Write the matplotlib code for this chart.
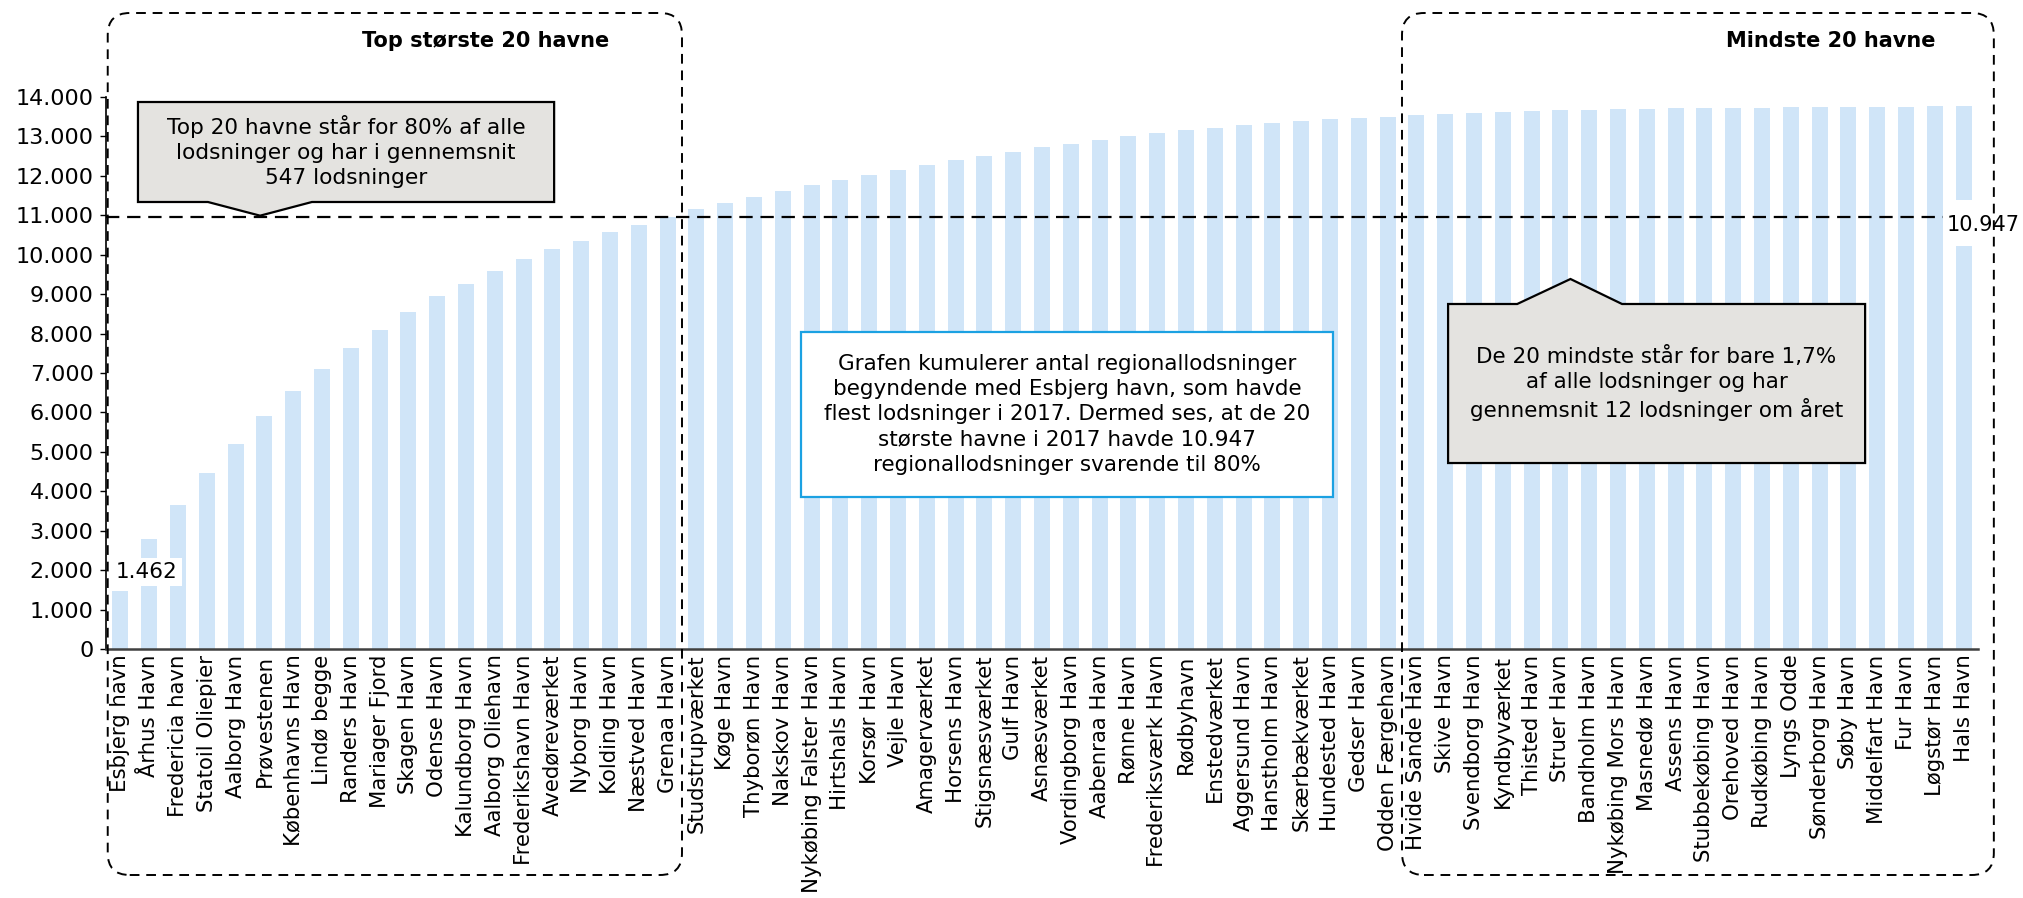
import matplotlib
matplotlib.use("Agg")
import matplotlib.pyplot as plt
from matplotlib.patches import FancyBboxPatch, Polygon, Rectangle
from matplotlib.ticker import FuncFormatter

plt.rcParams['font.family'] = ['DejaVu Sans']

# ---------------- data ----------------
havne = [
    "Esbjerg havn", "Århus Havn", "Fredericia havn", "Statoil Oliepier", "Aalborg Havn",
    "Prøvestenen", "Københavns Havn", "Lindø begge", "Randers Havn", "Mariager Fjord",
    "Skagen Havn", "Odense Havn", "Kalundborg Havn", "Aalborg Oliehavn", "Frederikshavn Havn",
    "Avedøreværket", "Nyborg Havn", "Kolding Havn", "Næstved Havn", "Grenaa Havn",
    "Studstrupværket", "Køge Havn", "Thyborøn Havn", "Nakskov Havn", "Nykøbing Falster Havn",
    "Hirtshals Havn", "Korsør Havn", "Vejle Havn", "Amagerværket", "Horsens Havn",
    "Stigsnæsværket", "Gulf Havn", "Asnæsværket", "Vordingborg Havn", "Aabenraa Havn",
    "Rønne Havn", "Frederiksværk Havn", "Rødbyhavn", "Enstedværket", "Aggersund Havn",
    "Hanstholm Havn", "Skærbækværket", "Hundested Havn", "Gedser Havn", "Odden Færgehavn",
    "Hvide Sande Havn", "Skive Havn", "Svendborg Havn", "Kyndbyværket", "Thisted Havn",
    "Struer Havn", "Bandholm Havn", "Nykøbing Mors Havn", "Masnedø Havn", "Assens Havn",
    "Stubbekøbing Havn", "Orehoved Havn", "Rudkøbing Havn", "Lyngs Odde", "Sønderborg Havn",
    "Søby Havn", "Middelfart Havn", "Fur Havn", "Løgstør Havn", "Hals Havn",
]

kumuleret = [
    1462, 2794, 3641, 4454, 5207, 5902, 6537, 7113, 7638, 8103,
    8535, 8943, 9265, 9586, 9890, 10135, 10355, 10567, 10761, 10947,
    11155, 11320, 11470, 11620, 11770, 11895, 12020, 12140, 12270, 12390,
    12500, 12610, 12720, 12810, 12910, 13010, 13095, 13160, 13220, 13290,
    13340, 13390, 13440, 13470, 13500,
    13540, 13575, 13600, 13630, 13645, 13660, 13680, 13690, 13705, 13710,
    13715, 13720, 13725, 13735, 13740, 13745, 13750, 13755, 13760, 13765,
]

graense = 10947
yticks = list(range(0, 14001, 1000))

# ---------------- figure ----------------
W, H = 2024, 898
fig = plt.figure(figsize=(W / 100, H / 100), dpi=100)
ax = fig.add_axes([106 / W, (H - 649) / H, (1978 - 106) / W, (649 - 97) / H])

x = list(range(len(havne)))
ax.bar(x, kumuleret, width=0.56, color='#D0E5F8', zorder=2)

ax.set_xlim(-0.5, len(havne) - 0.5)
ax.set_ylim(0, 14000)
ax.set_yticks(yticks)
ax.yaxis.set_major_formatter(FuncFormatter(lambda v, p: f"{int(v):,}".replace(",", ".")))
ax.tick_params(axis='y', labelsize=16, length=4, width=1, direction='out', pad=5, colors='black')
ax.set_xticks(x)
ax.set_xticklabels(havne, rotation=90, fontsize=15.3)
ax.tick_params(axis='x', length=0, pad=4)

for s in ['top', 'right']:
    ax.spines[s].set_visible(False)
ax.spines['left'].set_color('black')
ax.spines['left'].set_linewidth(1.2)
ax.spines['bottom'].set_color('#404040')
ax.spines['bottom'].set_linewidth(1.8)

# threshold dashed line
ax.plot([-0.5, len(havne) - 0.5], [graense, graense], color='black', lw=1.6,
        linestyle=(0, (6, 3.5)), zorder=4, clip_on=False)
ax.add_patch(Rectangle((63.3, 10220), 2.4, 1170, fc='white', ec='none',
                       zorder=5, clip_on=False))
ax.text(64.68, 10760, "10.947", fontsize=15, ha='center', va='center', zorder=6,
        clip_on=False)

# first value label
ax.text(-0.15, 1950, "1.462", fontsize=15.5, ha='left', va='center', zorder=6,
        bbox=dict(boxstyle='square,pad=0.2', fc='white', ec='none'))

# ---------------- callouts (data coords) ----------------
def callout(x0, x1, y0, y1, base0, base1, tip, top_pointer):
    if top_pointer:
        pts = [(x0, y0), (x1, y0), (x1, y1), (base1, y1), tip, (base0, y1), (x0, y1)]
    else:
        pts = [(x0, y1), (x1, y1), (x1, y0), (base1, y0), tip, (base0, y0), (x0, y0)]
    poly = Polygon(pts, closed=True, fc='#E4E3E0', ec='black', lw=1.6, zorder=7, clip_on=False)
    ax.add_patch(poly)

callout(0.61, 15.06, 11337, 13873, 3.04, 6.65, (4.85, 10990), top_pointer=False)
ax.text((0.61 + 15.06) / 2, (11337 + 13873) / 2 + 20,
        "Top 20 havne står for 80% af alle\nlodsninger og har i gennemsnit\n547 lodsninger",
        fontsize=15.6, ha='center', va='center', zorder=8, linespacing=1.3)

callout(46.10, 60.58, 4717, 8750, 48.5, 52.14, (50.35, 9384), top_pointer=True)
ax.text((46.10 + 60.58) / 2, (4717 + 8750) / 2,
        "De 20 mindste står for bare 1,7%\naf alle lodsninger og har\ngennemsnit 12 lodsninger om året",
        fontsize=15.5, ha='center', va='center', zorder=8, linespacing=1.3)

ax.add_patch(Rectangle((23.63, 3855), 42.1 - 23.63, 8040 - 3855, fc='white', ec='#1BA1E2',
                       lw=1.6, zorder=7))
ax.text((23.63 + 42.1) / 2, (3855 + 8040) / 2,
        "Grafen kumulerer antal regionallodsninger\nbegyndende med Esbjerg havn, som havde\n"
        "flest lodsninger i 2017. Dermed ses, at de 20\nstørste havne i 2017 havde 10.947\n"
        "regionallodsninger svarende til 80%",
        fontsize=15.5, ha='center', va='center', zorder=8, linespacing=1.33)

# ---------------- dashed rounded group boxes (display pixels) ----------------
def px_x(dx):
    return ax.transData.transform((dx, 0))[0]

top_px = H - 13
bot_px = H - 875
for (a, b) in [(-0.5 + 0.06, 19.5), (44.5, 64.5 + 0.55)]:
    xa, xb = px_x(a), px_x(b)
    box = FancyBboxPatch((xa + 22, bot_px + 22), (xb - xa) - 44, (top_px - bot_px) - 44,
                         boxstyle='round,pad=22,rounding_size=22',
                         fc='none', ec='black', lw=1.4, linestyle=(0, (5, 3.5)),
                         transform=None, zorder=9, clip_on=False)
    fig.add_artist(box)

fig.text(609 / W, 1 - 41 / H, "Top største 20 havne", fontsize=15, fontweight='bold',
         ha='right', va='center')
fig.text(1936 / W, 1 - 41 / H, "Mindste 20 havne", fontsize=15, fontweight='bold',
         ha='right', va='center')

fig.savefig("out.png", dpi=100, facecolor='white')
